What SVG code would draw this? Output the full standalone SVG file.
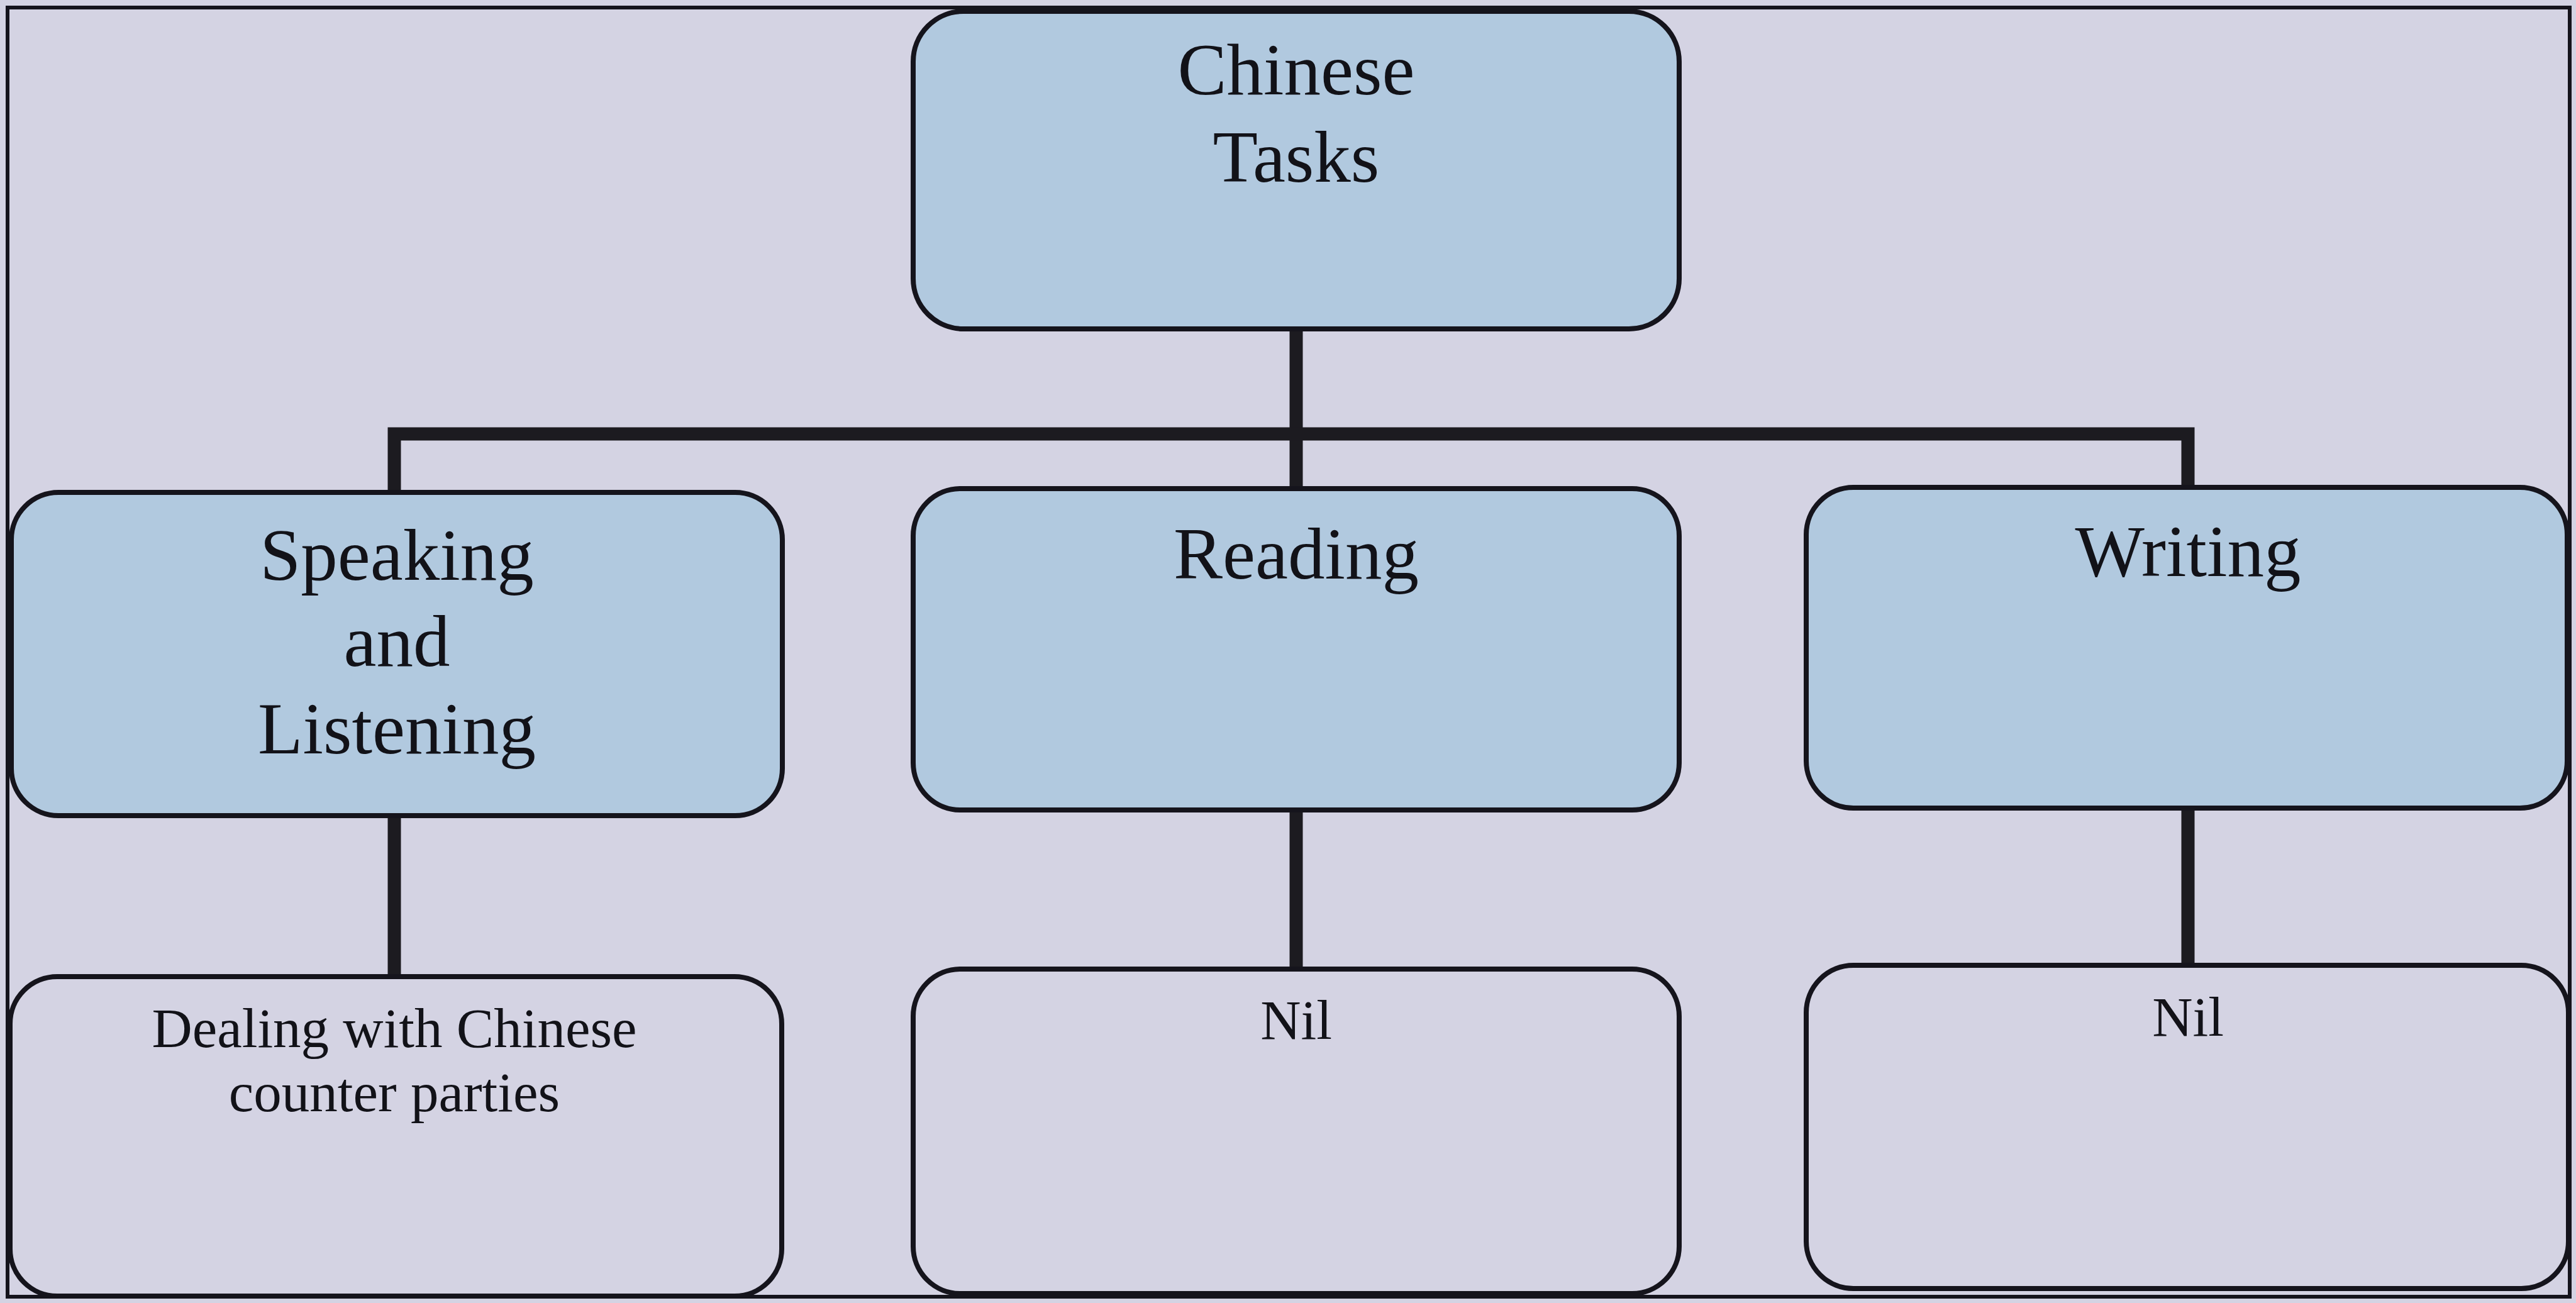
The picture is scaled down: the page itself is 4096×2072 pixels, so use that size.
<svg xmlns="http://www.w3.org/2000/svg" width="4096" height="2072" viewBox="0 0 4096 2072">
  <style>
    .bg { fill: #d4d3e3; }
    .frame { fill: none; stroke: #15141c; stroke-width: 6; }
    .box { stroke: #15141c; stroke-width: 8; }
    .blue { fill: #b1c9df; }
    .plain { fill: #d4d3e3; }
    .wire { fill: none; stroke: #1c1b20; stroke-width: 21; stroke-linecap: butt; stroke-linejoin: miter; }
    .big { font-family: "Liberation Serif", "Times New Roman", serif; font-size: 117px; fill: #121218; text-anchor: middle; }
    .small { font-family: "Liberation Serif", "Times New Roman", serif; font-size: 89px; fill: #121218; text-anchor: middle; }
  </style>

  <rect class="bg" x="0" y="0" width="4096" height="2072"/>
  <rect class="frame" x="12" y="12" width="4074" height="2050"/>

  <!-- connectors -->
  <g id="connectors">
    <path class="wire" d="M2061 523 V781"/>
    <path class="wire" d="M627 783 V690 H3479 V777"/>
    <path class="wire" d="M627 1296 V1553"/>
    <path class="wire" d="M2061 1288 V1541"/>
    <path class="wire" d="M3479 1285 V1535"/>
  </g>

  <!-- root -->
  <g id="node-chinese-tasks">
    <rect class="box blue" x="1452" y="18" width="1218" height="505" rx="80"/>
    <text class="big" x="2061" y="150">Chinese</text>
    <text class="big" x="2061" y="289">Tasks</text>
  </g>

  <!-- skill areas -->
  <g id="node-speaking-listening">
    <rect class="box blue" x="18" y="783" width="1226" height="514" rx="75"/>
    <text class="big" x="631" y="922">Speaking</text>
    <text class="big" x="631" y="1059">and</text>
    <text class="big" x="631" y="1198">Listening</text>
  </g>
  <g id="node-reading">
    <rect class="box blue" x="1452" y="777" width="1218" height="511" rx="75"/>
    <text class="big" x="2061" y="920">Reading</text>
  </g>
  <g id="node-writing">
    <rect class="box blue" x="2872" y="775" width="1210" height="510" rx="75"/>
    <text class="big" x="3479" y="916">Writing</text>
  </g>

  <!-- details -->
  <g id="node-dealing">
    <rect class="box plain" x="16" y="1553" width="1227" height="508" rx="75"/>
    <text class="small" x="627" y="1665">Dealing with Chinese</text>
    <text class="small" x="627" y="1767">counter parties</text>
  </g>
  <g id="node-reading-nil">
    <rect class="box plain" x="1452" y="1541" width="1218" height="516" rx="75"/>
    <text class="small" x="2061" y="1652">Nil</text>
  </g>
  <g id="node-writing-nil">
    <rect class="box plain" x="2872" y="1535" width="1212" height="514" rx="75"/>
    <text class="small" x="3479" y="1647">Nil</text>
  </g>
</svg>
